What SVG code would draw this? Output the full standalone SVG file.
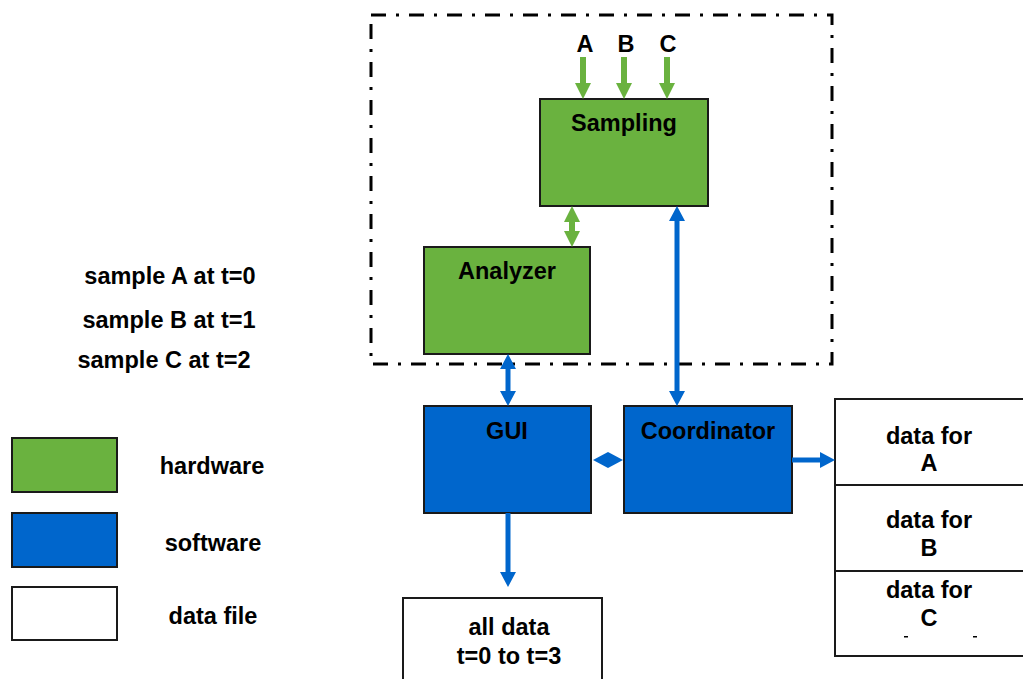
<svg xmlns="http://www.w3.org/2000/svg" width="1023" height="679" viewBox="0 0 1023 679">
<style>
text{font-family:"Liberation Sans",Arial,sans-serif;font-weight:bold;font-size:23.5px;fill:#000;text-anchor:middle}
.hw{fill:#6AB23F;stroke:#1a1a1a;stroke-width:2}
.sw{fill:#0066CC;stroke:#1a1a1a;stroke-width:2}
.df{fill:#fff;stroke:#1a1a1a;stroke-width:2}
.cb{stroke:#0066CC;stroke-width:5;fill:none}
.cg{stroke:#6AB23F;stroke-width:6;fill:none}
</style>
<defs>
<marker id="hb" markerUnits="userSpaceOnUse" markerWidth="15" markerHeight="16" refX="0" refY="8" orient="auto-start-reverse" viewBox="0 0 15 16"><path d="M0,0 L15,8 L0,16 z" fill="#0066CC"/></marker>
<marker id="hg" markerUnits="userSpaceOnUse" markerWidth="16" markerHeight="16" refX="0" refY="8" orient="auto-start-reverse" viewBox="0 0 16 16"><path d="M0,0 L16,8 L0,16 z" fill="#6AB23F"/></marker>
</defs>
<rect width="1023" height="679" fill="#fff"/>
<rect id="boundary" x="371" y="15" width="461" height="349" fill="none" stroke="#000" stroke-width="3" stroke-dasharray="15 10 3 10"/>
<g id="sampling"><rect class="hw" x="540" y="99" width="168" height="107"/><text x="624" y="131">Sampling</text></g>
<g id="analyzer"><rect class="hw" x="424" y="247" width="166" height="107"/><text x="507" y="279">Analyzer</text></g>
<g id="gui"><rect class="sw" x="424" y="406" width="167" height="107"/><text x="507" y="439">GUI</text></g>
<g id="coordinator"><rect class="sw" x="624" y="406" width="168" height="107"/><text x="708" y="439">Coordinator</text></g>
<g id="dataA"><rect class="df" x="835" y="399" width="200" height="86"/><text x="929" y="444">data for</text><text x="929" y="471">A</text></g>
<g id="dataB"><rect class="df" x="835" y="485" width="200" height="86"/><text x="929" y="528">data for</text><text x="929" y="556">B</text></g>
<g id="dataC"><rect class="df" x="835" y="571" width="200" height="85"/><text x="929" y="598">data for</text><text x="929" y="626">C</text><rect x="904" y="636" width="4" height="1.5" fill="#000"/><rect x="973" y="636" width="4" height="1.5" fill="#000"/></g>
<g id="alldata"><rect class="df" x="403" y="598" width="199" height="100"/><text x="509" y="635">all data</text><text x="509" y="664">t=0 to t=3</text></g>
<g id="inputs"><text x="585" y="52">A</text><text x="626" y="52">B</text><text x="668" y="52">C</text></g>
<g id="notes"><text x="170" y="284">sample A at t=0</text><text x="169" y="328">sample B at t=1</text><text x="164" y="368">sample C at t=2</text></g>
<g id="legend">
<rect class="hw" x="12" y="438" width="105" height="54"/><text x="212" y="474">hardware</text>
<rect class="sw" x="12" y="513" width="105" height="54"/><text x="213" y="551">software</text>
<rect class="df" x="12" y="587" width="105" height="53"/><text x="213" y="624">data file</text>
</g>
<g id="connectors">
<line class="cg" x1="583" y1="57" x2="583" y2="83" marker-end="url(#hg)"/>
<line class="cg" x1="624" y1="57" x2="624" y2="83" marker-end="url(#hg)"/>
<line class="cg" x1="667" y1="57" x2="667" y2="83" marker-end="url(#hg)"/>
<line class="cg" x1="572" y1="222" x2="572" y2="231" marker-start="url(#hg)" marker-end="url(#hg)"/>
<line class="cb" x1="677" y1="221" x2="677" y2="391" marker-start="url(#hb)" marker-end="url(#hb)"/>
<line class="cb" x1="508" y1="369" x2="508" y2="391" marker-start="url(#hb)" marker-end="url(#hb)"/>
<line class="cb" x1="508" y1="513" x2="508" y2="572" marker-end="url(#hb)"/>
<line class="cb" x1="792" y1="460" x2="820" y2="460" marker-end="url(#hb)"/>
<polygon points="593,460 608,452 623,460 608,468" fill="#0066CC"/>
</g>
</svg>
